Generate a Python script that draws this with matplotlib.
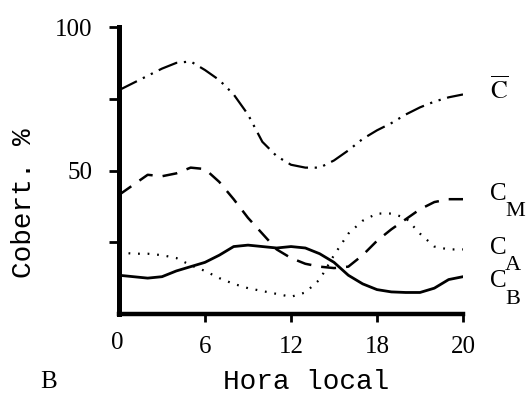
import matplotlib.pyplot as plt

# hours of the day (axis runs 0..24, last tick printed as "20" in the original)
hours = list(range(0, 25))

c_total = [78, 80.5, 83, 85.5, 87.5, 88, 85, 81.5, 76.5, 69.5, 60, 55, 52, 51,
           51, 53.5, 57, 61, 64, 66.5, 69.5, 72, 74, 75.5, 76.5]
c_medium = [41.5, 45, 48.5, 48, 49, 51, 50.5, 46, 40, 33.5, 28, 22.5, 19.5, 17.5,
            16.5, 16, 16.5, 20.5, 25.5, 29.5, 33, 36.5, 39, 40, 40]
c_high = [21.5, 21, 21, 20.5, 19.5, 17, 15, 12.5, 10.5, 9, 8, 7, 6, 7.5,
          12, 20.5, 28, 32.5, 35, 35, 33.5, 28, 23.5, 22.5, 22.5]
c_low = [13.5, 13, 12.5, 13, 15, 16.5, 18, 20.5, 23.5, 24, 23.5, 23, 23.5, 23,
         21, 18, 13.5, 10.5, 8.5, 7.7, 7.5, 7.5, 9, 12, 13]

xticks = [0, 6, 12, 18, 24]
xtick_labels = ["0", "6", "12", "18", "20"]
yticks = [25, 50, 75, 100]
ytick_labels = ["", "50", "", "100"]

serif = "Liberation Serif"
mono = "Liberation Mono"

fig = plt.figure(figsize=(5.28, 4.03), dpi=100)
ax = fig.add_axes([119 / 528, 1 - 314 / 403, 344 / 528, 287 / 403])

ax.plot(hours, c_total, color="black", lw=1.6, dashes=(9, 3, 1, 3, 1, 3))
ax.plot(hours, c_medium, color="black", lw=1.8, dashes=(6, 4))
ax.plot(hours, c_high, color="black", lw=1.6, dashes=(0.8, 3.5))
ax.plot(hours, c_low, color="black", lw=2)

ax.set_xlim(0, 24)
ax.set_ylim(0, 100)
ax.spines["top"].set_visible(False)
ax.spines["right"].set_visible(False)
ax.spines["left"].set_linewidth(3.6)
ax.spines["bottom"].set_linewidth(3.2)

ax.set_xticks(xticks[1:])
ax.set_xticklabels(xtick_labels[1:], family=serif, fontsize=18)
ax.set_yticks(yticks)
ax.set_yticklabels(ytick_labels, family=serif, fontsize=18)
ax.tick_params(axis="x", length=6, width=2, pad=10)
ax.tick_params(axis="y", length=7, width=2, pad=12)

fig.text(117 / 528, 1 - 343 / 403, "0", family=serif, fontsize=18,
         ha="center", va="center")

fig.text(24 / 528, 1 - 203 / 403, "Cobert. %", family=mono, fontsize=20,
         rotation=90, ha="center", va="center")
fig.text(306 / 528, 1 - 382 / 403, "Hora local", family=mono, fontsize=20,
         ha="center", va="center")
fig.text(40 / 528, 1 - 382 / 403, "B", family=serif, fontsize=18,
         ha="left", va="center")

# curve labels on the right
plt.rcParams["mathtext.fontset"] = "stix"
fig.text(490 / 528, 1 - 90 / 403, r"$\overline{\mathrm{C}}$", fontsize=18,
         ha="left", va="center")
for name, y in [("M", 194), ("A", 248), ("B", 281)]:
    fig.text(490 / 528, 1 - y / 403, "C", family=serif, fontsize=18,
             ha="left", va="center")
    fig.text(505 / 528, 1 - (y + 18) / 403, name, family=serif, fontsize=16,
             ha="left", va="center")

fig.savefig("out.png", dpi=100)
